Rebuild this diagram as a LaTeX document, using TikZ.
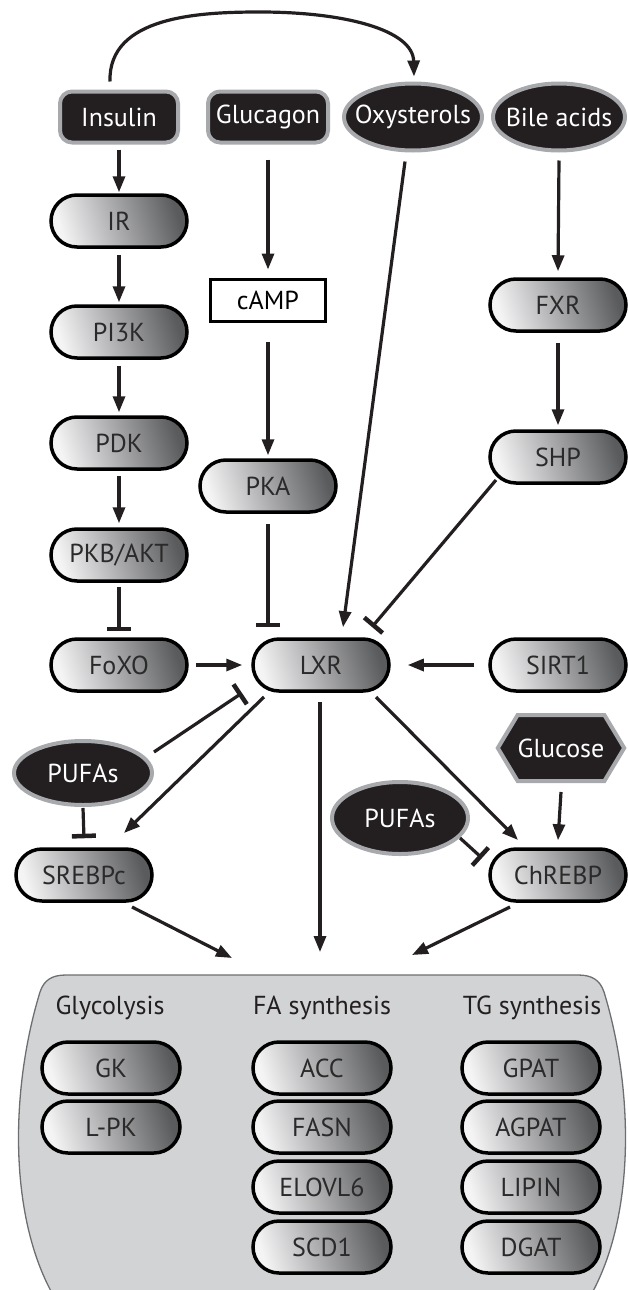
\documentclass[tikz,border=0pt]{standalone}
\usepackage{fontspec}
\setmainfont{PT Sans}
\usetikzlibrary{arrows.meta,calc,shapes.geometric,shapes.symbols}
\definecolor{nodeblack}{HTML}{231F20}
\definecolor{rimgray}{HTML}{A7A9AC}
\definecolor{boxgray}{HTML}{D1D3D4}
\definecolor{boxedge}{HTML}{6D6E71}
\definecolor{pilltext}{HTML}{2A2A2A}
\definecolor{lightend}{HTML}{F4F4F5}
\definecolor{darkend}{HTML}{5A5B5D}
\tikzset{
  txt/.style={font=\fontsize{26}{30}\selectfont},
  pill/.style={rectangle, rounded corners=26pt, draw=black, line width=3.5pt,
    minimum width=136pt, minimum height=52pt, inner sep=0pt,
    left color=lightend, right color=darkend, shading angle=107,
    text=pilltext, txt},
  blackbox/.style={rectangle, rounded corners=12pt, fill=nodeblack, draw=rimgray,
    line width=4pt, minimum width=118pt, minimum height=51pt, inner sep=0pt,
    text=white, txt},
  blackoval/.style={ellipse, fill=nodeblack, draw=rimgray, line width=4pt,
    inner xsep=-12pt, inner ysep=-6pt, text=white, txt},
  hexnode/.style={signal, signal to=west and east, signal pointer angle=118,
    fill=nodeblack, draw=rimgray, line width=4pt, minimum width=121pt,
    minimum height=66pt, inner sep=0pt, text=white, txt},
  plainbox/.style={rectangle, draw=black, line width=3pt, fill=white,
    minimum width=115pt, minimum height=42pt, inner sep=0pt,
    text=black, txt},
  heading/.style={text=nodeblack, inner sep=0pt, txt},
  act/.style={draw=nodeblack, line width=3.2pt, -{Triangle[length=16pt,width=12pt]}},
  inh/.style={draw=nodeblack, line width=3.2pt, -{Bar[width=24pt,line width=4.5pt]}},
}
\begin{document}
\begin{tikzpicture}[x=1pt,y=-1pt]
\useasboundingbox (0,0) rectangle (627,1290);

% big pathway box (its bottom edge lies below the picture)
\filldraw[fill=boxgray, draw=boxedge, line width=1.3pt]
  (66,975) -- (578,975) .. controls (592,975) and (600,980) .. (604,992)
  .. controls (634,1090) and (636,1220) .. (588,1300)
  -- (56,1300)
  .. controls (8,1220) and (10,1090) .. (40,992)
  .. controls (44,980) and (52,975) .. (66,975) -- cycle;

% top row
\node[blackbox, minimum width=118pt] (ins) at (119,117) {Insulin};
\node[blackbox, minimum width=120pt] (glu) at (268,117) {Glucagon};
\node[blackoval, minimum width=138pt, minimum height=67pt] (oxy) at (413,117) {Oxysterols};
\node[blackoval, minimum width=132pt, minimum height=67pt] (bile) at (559,117) {Bile acids};

% left column
\node[pill] (ir) at (119,221) {IR};
\node[pill] (pi3k) at (119,332) {PI3K};
\node[pill] (pdk) at (119,443) {PDK};
\node[pill] (pkb) at (119,555) {PKB/AKT};
\node[pill] (foxo) at (119,665) {FoXO};

% glucagon column
\node[plainbox] (camp) at (268,300) {cAMP};
\node[pill] (pka) at (268,486) {PKA};

% centre
\node[pill] (lxr) at (321,665) {LXR};

% right column
\node[pill] (fxr) at (558,305) {FXR};
\node[pill] (shp) at (558,457) {SHP};
\node[pill] (sirt1) at (558,665) {SIRT1};
\node[hexnode] (glucose) at (561,748) {Glucose};
\node[pill] (chrebp) at (558,875) {ChREBP};

% lower left / middle
\node[blackoval, minimum width=138pt, minimum height=64pt] (pufa1) at (83,773) {PUFAs};
\node[pill] (srebp) at (84,875) {SREBPc};
\node[blackoval, minimum width=136pt, minimum height=72pt] (pufa2) at (400,818) {PUFAs};

% pathway contents
\node[heading] (hgly) at (110,1008) {Glycolysis};
\node[heading] (hfa) at (322,1008) {FA synthesis};
\node[heading] (htg) at (532,1008) {TG synthesis};
\node[pill, minimum width=138pt] (gk) at (111,1068) {GK};
\node[pill, minimum width=138pt] (lpk) at (111,1127) {L-PK};
\node[pill, minimum width=138pt] (acc) at (322,1068) {ACC};
\node[pill, minimum width=138pt] (fasn) at (322,1127) {FASN};
\node[pill, minimum width=138pt] (elovl) at (322,1187) {ELOVL6};
\node[pill, minimum width=138pt] (scd) at (322,1247) {SCD1};
\node[pill, minimum width=138pt] (gpat) at (531,1068) {GPAT};
\node[pill, minimum width=138pt] (agpat) at (531,1127) {AGPAT};
\node[pill, minimum width=138pt] (lipin) at (531,1187) {LIPIN};
\node[pill, minimum width=138pt] (dgat) at (531,1247) {DGAT};

% free ends into the pathway box
\coordinate (t1) at (232,958);
\coordinate (t2) at (320,952);
\coordinate (t3) at (412,955);

% connectors
\draw[act] ($(ins.north)+(-9,-8)$) .. controls (108,16) and (200,12) .. (260,12)
  .. controls (345,12) and (413,30) .. ($(oxy.north)+(1,-5)$);
\draw[act] ($(ins.south)+(0,5)$) -- ($(ir.north)+(0,-1)$);
\draw[act] ($(ir.south)+(0,6)$) -- ($(pi3k.north)+(0,-2)$);
\draw[act] ($(pi3k.south)+(0,6)$) -- ($(pdk.north)+(0,-3)$);
\draw[act] ($(pdk.south)+(0,5)$) -- ($(pkb.north)+(0,-4)$);
\draw[inh] ($(pkb.south)+(0,4)$) -- ($(foxo.north)+(0,-6)$);
\draw[act] ($(glu.south)+(0,15)$) -- ($(camp.north)+(0,-8)$);
\draw[act] ($(camp.south)+(0,19)$) -- ($(pka.north)+(0,-3)$);
\draw[inh] ($(pka.south)+(0,10)$) -- ($(pka.south |- lxr.north)+(0,-10)$);
\draw[act] ($(oxy.south)+(-8,9)$) -- ($(lxr.north)+(22,-10)$);
\draw[act] ($(bile.south)+(0,8)$) -- ($(fxr.north)+(0,-6)$);
\draw[act] ($(fxr.south)+(0,10)$) -- ($(shp.north)+(0,-4)$);
\draw[inh] ($(shp.center)+(-62,23)$) -- ($(lxr.center)+(51,-38)$);
\draw[act] ($(foxo.east)+(7,0)$) -- ($(lxr.west)+(-9,0)$);
\draw[act] ($(sirt1.west)+(-14,0)$) -- ($(lxr.east)+(17,0)$);
\draw[inh] ($(pufa1.center)+(71,-21)$) -- ($(lxr.center)+(-79,28)$);
\draw[act] ($(lxr.center)+(-57,32)$) -- ($(srebp.center)+(40,-42)$);
\draw[inh] ($(pufa1.south)+(0,1)$) -- ($(srebp.north)+(0,-9)$);
\draw[act] ($(lxr.south)+(-1,9)$) -- (t2);
\draw[act] ($(lxr.center)+(55,32)$) -- ($(chrebp.center)+(-40,-35)$);
\draw[act] ($(glucose.south)+(0,9)$) -- ($(chrebp.north)+(0,-7)$);
\draw[inh] ($(pufa2.center)+(60,20)$) -- ($(chrebp.center)+(-76,-17)$);
\draw[act] ($(srebp.center)+(48,32)$) -- (t1);
\draw[act] ($(chrebp.center)+(-48,32)$) -- (t3);
\end{tikzpicture}
\end{document}
